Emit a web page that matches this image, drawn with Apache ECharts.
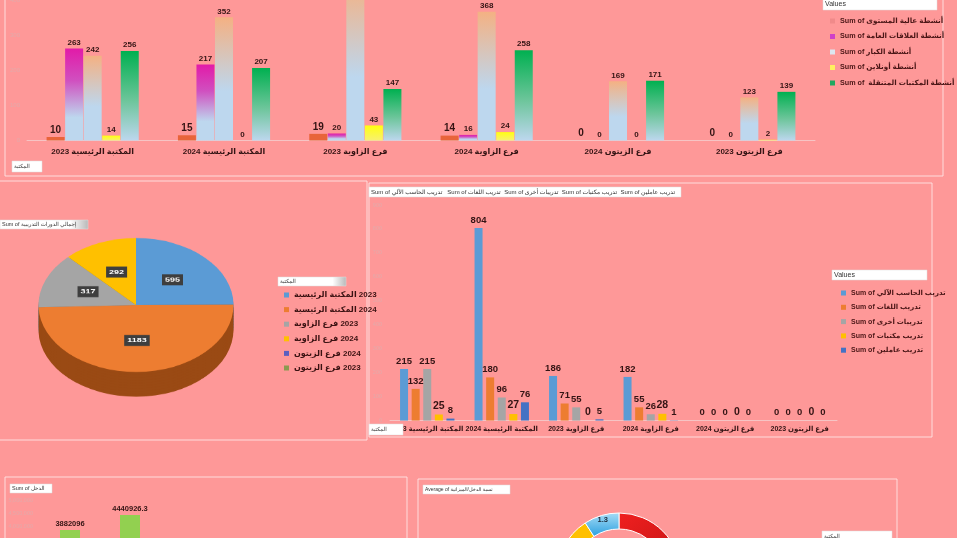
<!DOCTYPE html>
<html><head><meta charset="utf-8">
<script src="https://cdn.jsdelivr.net/npm/echarts@6/dist/echarts.min.js"></script>
<style>
html,body{margin:0;padding:0;background:#FE9898;overflow:hidden;}
#main{position:absolute;left:0;top:0;width:957px;height:538px;}
#pie{position:absolute;left:-14px;top:155px;width:300px;height:300px;transform:scaleY(0.687);transform-origin:50% 50%;z-index:2;}
</style></head>
<body>
<div id="main"></div>
<div id="pie"></div>
<script>
// ---------- data ----------
const categories = ['المكتبة الرئيسية 2023','المكتبة الرئيسية 2024','فرع الزاوية 2023','فرع الزاوية 2024','فرع الزيتون 2024','فرع الزيتون 2023'];
const activityNames = ['Sum of أنشطة عالية المستوى','Sum of أنشطة العلاقات العامة','Sum of أنشطة الكبار','Sum of أنشطة أونلاين','Sum of  أنشطة المكتبات المتنقلة'];
const highLevel = [10,15,19,14,0,0];
const publicRelations = [263,217,20,16,0,0];
const adults = [242,352,453,368,169,123];
const online = [14,0,43,24,0,2];
const mobileLibraries = [256,207,147,258,171,139];
const activityTicks = [0,100,200,300,400];

const trainingNames = ['Sum of تدريب الحاسب الآلي','Sum of تدريب اللغات','Sum of تدريبات أخرى','Sum of تدريب مكتبات','Sum of تدريب عاملين'];
const computerTraining = [215,804,186,182,0,0];
const languageTraining = [132,180,71,55,0,0];
const otherTraining = [215,96,55,26,0,0];
const libraryTraining = [25,27,0,28,0,0];
const staffTraining = [8,76,5,1,0,0];

const totalCourses = [595,1183,317,292,0,0];
const income = [3882096,4440926.3,2950000,3100000,1850000,1600000];
const incomeRatio = [4.2,2.5,2.0,1.8,2.4,1.3];

// ---------- styles ----------
const FONT = 'Liberation Sans, DejaVu Sans, sans-serif';
const G = echarts.graphic.LinearGradient;
const lightBlue = '#BDD7EE';
const topColors = [
  '#E8643A',
  new G(0,0,0,1,[{offset:0,color:'#E21AA8'},{offset:0.35,color:'#D050C0'},{offset:0.75,color:lightBlue},{offset:1,color:lightBlue}]),
  new G(0,0,0,1,[{offset:0,color:'#F4B183'},{offset:0.6,color:lightBlue},{offset:1,color:lightBlue}]),
  new G(0,0,0,1,[{offset:0,color:'#FFFF10'},{offset:1,color:'#F8F070'}]),
  new G(0,0,0,1,[{offset:0,color:'#00B050'},{offset:0.55,color:'#6CC59A'},{offset:1,color:lightBlue}])
];
const topLegendColors = ['#F08A8A','#D040C8','#DDE6F0','#FFF060','#20A860'];
const trainColors = ['#5B9BD5','#ED7D31','#A5A5A5','#FFC000','#4472C4'];
const pieColors = ['#5B9BD5','#ED7D31','#A5A5A5','#FFC000','#5B5FC0','#8A9A50'];
const pieSideColors = ['#3D6E9C','#9A4A14','#737373','#B08400','#3A3E90','#5E6C34'];
const donutColors = [
  new G(0,0,1,1,[{offset:0,color:'#F02020'},{offset:1,color:'#B81010'}]),
  '#70AD47','#7030A0','#A5A5A5','#FFC000',
  new G(0,0,0,1,[{offset:0,color:'#A8DCF5'},{offset:1,color:'#2AA0E0'}])
];
const faint = '#E3A9A9';
const dark = '#341414';

const topData = [highLevel,publicRelations,adults,online,mobileLibraries];
const trainData = [computerTraining,languageTraining,otherTraining,libraryTraining,staffTraining];

// put the year on the right of the Arabic name (as in the pie legend)
function yearRight(name){
  const m = name.match(/^(.*) (\d{4})$/);
  return m ? m[1] + '\u200E ' + m[2] : name;
}

function box(x,y,w,h,text,grad,fs){
  return [{
    type:'rect', z:100, shape:{x:x,y:y,width:w,height:h},
    style:{fill: grad ? new G(0,0,1,0,[{offset:0,color:'#fff'},{offset:0.8,color:'#fff'},{offset:1,color:'#B8B8B8'}]) : '#fff', stroke:'#ddd', lineWidth:0.5}
  },{
    type:'text', z:101, x:x+2, y:y+h/2,
    style:{text:text, fontSize:fs||6, fontFamily:FONT, fill:'#333', verticalAlign:'middle'}
  }];
}
function panel(x,y,w,h){
  return {type:'rect', z:1, shape:{x:x,y:y,width:w,height:h}, style:{fill:'none', stroke:'rgba(255,228,228,0.9)', lineWidth:1}};
}

const series = [];
topData.forEach((d,i)=>{
  series.push({
    type:'bar', name:activityNames[i], xAxisIndex:0, yAxisIndex:0, data:d,
    barWidth:18, barGap:'3%', clip:false,
    itemStyle:{color:topColors[i]},
    label:{show:true, position:'top', distance:2, fontFamily:FONT, fontWeight:'bold', fontSize: i===0?10:8, color:dark}
  });
});
trainData.forEach((d,i)=>{
  series.push({
    type:'bar', name:trainingNames[i], xAxisIndex:1, yAxisIndex:1, data:d,
    barWidth:8, barGap:'45%',
    itemStyle:{color:trainColors[i]},
    label:{show:true, position:'top', distance:3, fontFamily:FONT, fontWeight:'bold', fontSize: i===3?10.5:9.5, color:dark}
  });
});
series.push({
  type:'bar', name:'Sum of الدخل', xAxisIndex:2, yAxisIndex:2, data:income, barWidth:20,
  itemStyle:{color:'#92D050'},
  label:{show:true, position:'top', distance:2, fontFamily:FONT, fontWeight:'bold', fontSize:7.5, color:dark}
});
// legend carrier for the 3D pie (drawn in the overlay)
series.push({
  type:'pie', name:'pieLegend', radius:[0,0], center:[135,305], silent:true,
  label:{show:false}, labelLine:{show:false},
  data: categories.map((c,i)=>({name:c, value:totalCourses[i], itemStyle:{color:pieColors[i]}}))
});
series.push({
  type:'pie', name:'donut', center:[619,575], radius:[46,62], startAngle:90, silent:true,
  itemStyle:{borderColor:'#fff', borderWidth:1},
  label:{show:true, position:'inside', formatter:'{c}', fontFamily:FONT, fontWeight:'bold', fontSize:7.5, color:'#1a2a3a'},
  data: categories.map((c,i)=>({name:'donut '+c, value:incomeRatio[i], itemStyle:{color:donutColors[i]}}))
});

const option = {
  backgroundColor:'#FE9898',
  animation:false,
  textStyle:{fontFamily:FONT},
  grid:[
    {left:27, top:0.5, width:788, height:140, outerBoundsMode:'none', containLabel:false},
    {left:390, top:205, width:447, height:215.5, outerBoundsMode:'none', containLabel:false},
    {left:40, top:500, width:360, height:134, outerBoundsMode:'none', containLabel:false}
  ],
  xAxis:[
    {type:'category', gridIndex:0, data:categories,
     axisLine:{lineStyle:{color:'#F6C4C4'}}, axisTick:{show:false},
     axisLabel:{interval:0, fontFamily:FONT, fontWeight:'bold', fontSize:8, color:dark, margin:7}},
    {type:'category', gridIndex:1, data:categories,
     axisLine:{lineStyle:{color:'#F6C4C4'}}, axisTick:{show:false},
     axisLabel:{interval:0, fontFamily:FONT, fontWeight:'bold', fontSize:7, color:dark, margin:5}},
    {type:'category', gridIndex:2, data:categories,
     axisLine:{lineStyle:{color:'#F6C4C4'}}, axisTick:{show:false},
     axisLabel:{interval:0, fontFamily:FONT, fontWeight:'bold', fontSize:7.5, color:dark}}
  ],
  yAxis:[
    {type:'value', gridIndex:0, min:activityTicks[0], max:activityTicks[activityTicks.length-1], interval:100,
     splitLine:{show:false}, axisLine:{show:false}, axisTick:{show:false},
     axisLabel:{fontSize:6, color:faint, margin:7}},
    {type:'value', gridIndex:1, min:0, max:900, interval:100,
     splitLine:{show:false}, axisLine:{show:false}, axisTick:{show:false},
     axisLabel:{fontSize:5.5, color:faint, margin:8}},
    {type:'value', gridIndex:2, min:0, max:5000000, interval:500000,
     splitLine:{show:false}, axisLine:{show:false}, axisTick:{show:false},
     axisLabel:{fontSize:5.5, color:faint, margin:7}}
  ],
  legend:[
    {orient:'vertical', left:825, top:11, itemWidth:5, itemHeight:5, itemGap:5.5, icon:'rect',
     textStyle:{fontFamily:FONT, fontWeight:'bold', fontSize:7.2, lineHeight:10, color:'#4A1616'},
     data: activityNames.map((n,i)=>({name:n, itemStyle:{color:topLegendColors[i]}}))},
    {orient:'vertical', left:836, top:283, itemWidth:5, itemHeight:5, itemGap:4.3, icon:'rect',
     textStyle:{fontFamily:FONT, fontWeight:'bold', fontSize:7, lineHeight:10, color:'#4A1616'},
     data: trainingNames},
    {orient:'vertical', left:279, top:285, itemWidth:5, itemHeight:5, itemGap:4.6, icon:'rect',
     formatter: yearRight,
     textStyle:{fontFamily:FONT, fontWeight:'bold', fontSize:8, lineHeight:10, color:'#3A1212'},
     data: categories}
  ],
  graphic:[
    panel(5,-5,938,181),
    panel(-5,181,372,259),
    panel(369,183,563,254),
    panel(5,477,402,70),
    panel(418,479,479,70),
    ...box(823,-2,114,12,'Values',false,7),
    ...box(12,161,30,11,'المكتبة',false,5.5),
    ...box(0,220,88,9,'Sum of إجمالي الدورات التدريبية',true,5.5),
    ...box(278,277,68,9,'المكتبة',true,5.5),
    ...box(369,187,312,10,'Sum of تدريب الحاسب الآلي   Sum of تدريب اللغات  Sum of تدريبات أخرى  Sum of تدريب مكتبات  Sum of تدريب عاملين',false,6),
    ...box(832,270,95,10,'Values',false,7),
    ...box(369,424,34,11,'المكتبة',false,5.5),
    ...box(10,484,42,9,'Sum of الدخل',false,5.5),
    ...box(423,485,87,9,'Average of نسبة الدخل/الميزانية',false,5),
    ...box(822,531,70,10,'المكتبة',false,5.5)
  ],
  series: series
};
echarts.init(document.getElementById('main')).setOption(option);

// ---------- 3D-looking pie (overlay, vertically squashed) ----------
const pieSeries = [];
for (let off = 36; off >= 4; off -= 4) {
  pieSeries.push({
    type:'pie', silent:true, radius:97.5, center:[150,150+off], startAngle:90,
    label:{show:false}, labelLine:{show:false},
    data: categories.map((c,i)=>({name:c, value:totalCourses[i], itemStyle:{color:pieSideColors[i]}}))
  });
}
pieSeries.push({
  type:'pie', silent:true, radius:97.5, center:[150,150], startAngle:90,
  labelLine:{show:false},
  label:{show:true, position:'inside', formatter:'{c}', fontFamily:FONT, fontWeight:'bold', fontSize:9, color:'#fff',
         backgroundColor:'#3E3E3E', padding:[4,3,3,3]},
  data: categories.map((c,i)=>({name:c, value:totalCourses[i], itemStyle:{color:pieColors[i]}, label:{show:totalCourses[i]>0}}))
});
echarts.init(document.getElementById('pie')).setOption({animation:false, series:pieSeries});
</script>
</body></html>
